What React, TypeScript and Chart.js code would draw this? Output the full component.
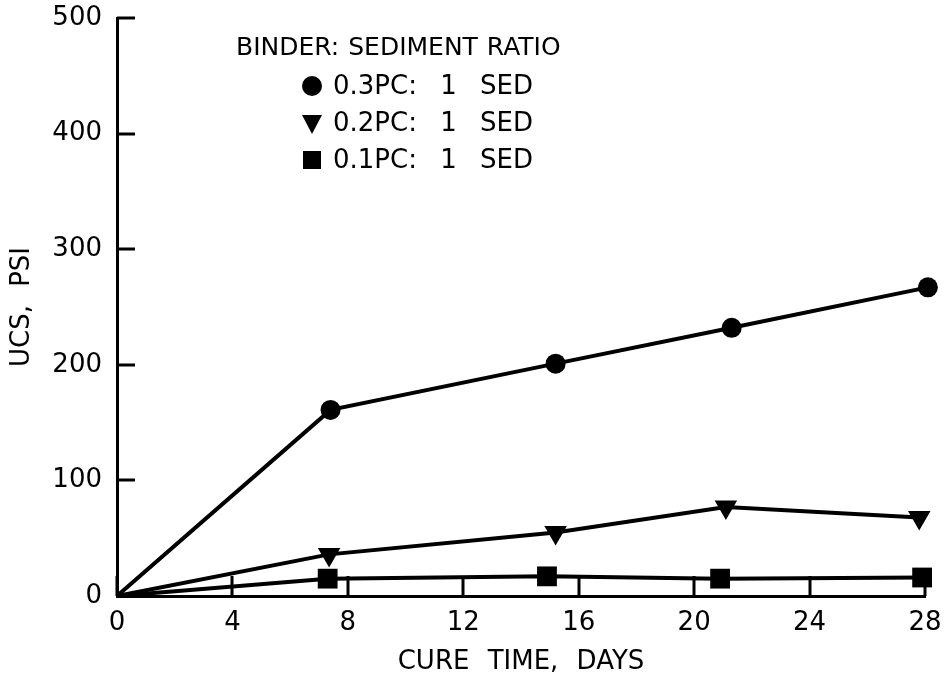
import React, { useEffect, useRef } from "react";
import { Chart, registerables } from "chart.js";

Chart.register(...registerables);

// Data
const days03 = [0, 7.4, 15.2, 21.3, 28.1];
const ucs03 = [0, 161, 201, 232, 267];
const days02 = [0, 7.35, 15.2, 21.1, 27.8];
const ucs02 = [0, 36, 55, 77, 68];
const days01 = [0, 7.3, 14.9, 20.9, 27.9];
const ucs01 = [0, 15, 17, 15, 16];

const seriesLabels = ["0.3PC: 1 SED", "0.2PC: 1 SED", "0.1PC: 1 SED"];
const legendTitle = "BINDER: SEDIMENT RATIO";
const xTitle = "CURE TIME, DAYS";
const yTitle = "UCS, PSI";
const xTicks = [0, 4, 8, 12, 16, 20, 24, 28];
const yTicks = [0, 100, 200, 300, 400, 500];

const FONT = "DejaVu Sans";

function pts(xs: number[], ys: number[]) {
  return xs.map((x, i) => ({ x, y: ys[i] }));
}

const spacingPlugin = {
  id: "spacing",
  beforeDraw(chart: any) {
    const ctx = chart.ctx as any;
    ctx.wordSpacing = "10px";
  },
};

const inwardTicks = {
  id: "inwardTicks",
  beforeDatasetsDraw(chart: any) {
    const ctx = chart.ctx;
    const xs = chart.scales.x;
    const ys = chart.scales.y;
    const { left, bottom } = chart.chartArea;
    ctx.save();
    ctx.strokeStyle = "#000";
    ctx.lineWidth = 3;
    ctx.lineCap = "butt";
    ctx.beginPath();
    xTicks.forEach((t) => {
      const px = Math.round(xs.getPixelForValue(t));
      ctx.moveTo(px, bottom);
      ctx.lineTo(px, bottom - 20);
    });
    yTicks.forEach((t) => {
      const py = Math.round(ys.getPixelForValue(t));
      ctx.moveTo(left, py);
      ctx.lineTo(left + 18, py);
    });
    ctx.stroke();
    ctx.restore();
  },
};

const legendPlugin = {
  id: "customLegend",
  afterDraw(chart: any) {
    const ctx = chart.ctx as any;
    ctx.save();
    ctx.fillStyle = "#000";
    ctx.textBaseline = "middle";
    ctx.textAlign = "left";
    ctx.font = `25px "${FONT}"`;
    ctx.wordSpacing = "1px";
    ctx.fillText(legendTitle, 236, 48);
    ctx.font = `26px "${FONT}"`;
    ctx.wordSpacing = "15px";
    const rows = [86, 123, 160];
    const mx = 312;
    seriesLabels.forEach((lab, i) => {
      const cy = rows[i];
      ctx.beginPath();
      if (i === 0) {
        ctx.arc(mx, cy, 10, 0, Math.PI * 2);
      } else if (i === 1) {
        ctx.moveTo(mx - 10, cy - 8);
        ctx.lineTo(mx + 10, cy - 8);
        ctx.lineTo(mx, cy + 11);
        ctx.closePath();
      } else {
        ctx.rect(mx - 9, cy - 9, 18, 18);
      }
      ctx.fill();
      ctx.fillText(lab, 333, cy + 1);
    });
    ctx.restore();
  },
};

export default function App() {
  const ref = useRef<HTMLCanvasElement | null>(null);
  useEffect(() => {
    if (!ref.current) return;
    const common = {
      borderColor: "#000",
      backgroundColor: "#000",
      borderWidth: 4,
      pointBackgroundColor: "#000",
      pointBorderColor: "#000",
      pointBorderWidth: 0,
      showLine: true,
      clip: false as any,
      tension: 0,
    };
    const chart = new Chart(ref.current, {
      type: "scatter",
      data: {
        datasets: [
          {
            ...common,
            label: seriesLabels[0],
            data: pts(days03, ucs03),
            pointStyle: "circle",
            pointRadius: [0, 10, 10, 10, 10],
          },
          {
            ...common,
            label: seriesLabels[1],
            data: pts(days02, ucs02),
            pointStyle: "triangle",
            pointRotation: 180,
            pointRadius: [0, 13, 13, 13, 13],
          },
          {
            ...common,
            label: seriesLabels[2],
            data: pts(days01, ucs01),
            pointStyle: "rect",
            pointRadius: [0, 14, 14, 14, 14],
          },
        ],
      },
      options: {
        animation: false,
        responsive: false,
        maintainAspectRatio: false,
        layout: { padding: { top: 18, right: 24, left: 0, bottom: 0 } },
        plugins: {
          legend: { display: false },
          tooltip: { enabled: false },
        },
        scales: {
          x: {
            type: "linear",
            min: 0,
            max: 28,
            afterBuildTicks: (s: any) => {
              s.ticks = xTicks.map((v) => ({ value: v }));
            },
            afterFit: (s: any) => {
              s.height = 82;
              s.paddingLeft = 0;
              s.paddingRight = 0;
            },
            grid: { display: false, drawTicks: false },
            border: { display: true, color: "#000", width: 3 },
            ticks: {
              color: "#000",
              font: { family: FONT, size: 26 },
              padding: 12,
              maxRotation: 0,
              autoSkip: false,
            },
            title: {
              display: true,
              text: xTitle,
              color: "#000",
              font: { family: FONT, size: 26 },
              padding: { top: 0, bottom: 0 },
            },
          },
          y: {
            type: "linear",
            min: 0,
            max: 500,
            afterBuildTicks: (s: any) => {
              s.ticks = yTicks.map((v) => ({ value: v }));
            },
            afterFit: (s: any) => {
              s.width = 117;
              s.paddingTop = 0;
              s.paddingBottom = 0;
            },
            grid: { display: false, drawTicks: false },
            border: { display: true, color: "#000", width: 3 },
            ticks: {
              color: "#000",
              font: { family: FONT, size: 26 },
              padding: 15,
              autoSkip: false,
            },
            title: {
              display: true,
              text: yTitle,
              color: "#000",
              font: { family: FONT, size: 26 },
              padding: { top: 7, bottom: 0 },
            },
          },
        },
      },
      plugins: [spacingPlugin, inwardTicks, legendPlugin],
    });
    return () => chart.destroy();
  }, []);
  return (
    <div style={{ position: "fixed", left: 0, top: 0, width: 949, height: 678, background: "#fff" }}>
      <canvas ref={ref} width={949} height={678} style={{ width: 949, height: 678 }} />
    </div>
  );
}
